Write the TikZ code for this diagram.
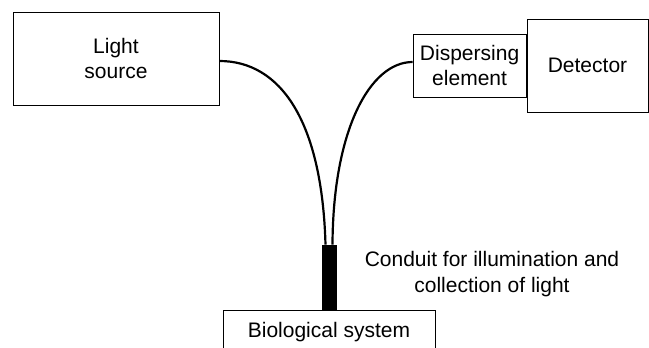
\documentclass[tikz,border=0pt]{standalone}
\usepackage{fontspec}
\setmainfont{Liberation Sans}
\usepackage{tikz}

\begin{document}
\begin{tikzpicture}[x=1pt,y=-1pt,
      bx/.style={draw=black,line width=0.9pt,align=center,inner sep=0pt,
                 font=\fontsize{21}{25}\selectfont},
      fb/.style={draw=black,line width=2.2pt}]
    \clip (0,0) rectangle (649,348);
    % source and spectrometer
    \node[bx,minimum width=206pt,minimum height=93pt] (src) at (116,58.5) {Light\\ source};
    \node[bx,minimum width=121pt,minimum height=93pt] (det) at (587.5,65.5) {Detector};
    \node[bx,minimum width=113pt,minimum height=63pt,anchor=east] (disp) at (det.west) {Dispersing\\ element};
    % sample and probe
    \node[bx,minimum width=212pt,minimum height=44pt,anchor=north] (bio) at (329,310) {Biological system};
    \node[fill=black,minimum width=15pt,minimum height=65pt,inner sep=0pt,anchor=south] (cond) at (bio.north) {};
    \node[font=\fontsize{21}{26}\selectfont,align=center] (lbl) at (492,274) {Conduit for illumination and\\ collection of light};
    % fibres
    \draw[fb] ([yshift=-2.5pt]src.east) .. controls (280,61) and (322,120) .. ([xshift=-3.5pt]cond.north);
    \draw[fb] ([yshift=3.5pt]disp.west) .. controls (370,62) and (333,130) .. ([xshift=3.5pt]cond.north);
  \end{tikzpicture}
\end{document}
